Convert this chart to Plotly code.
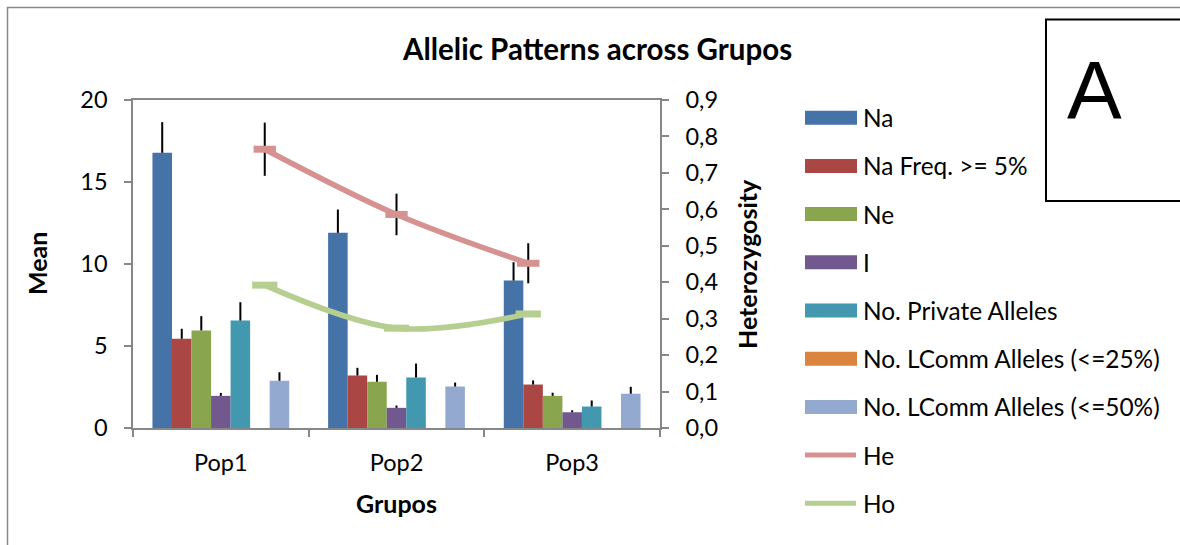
import plotly.graph_objects as go

# ---------------- data ----------------
groups = ["Pop1", "Pop2", "Pop3"]
bar_names = ["Na", "Na Freq. >= 5%", "Ne", "I", "No. Private Alleles",
             "No. LComm Alleles (<=25%)", "No. LComm Alleles (<=50%)"]
na = [16.78, 11.90, 8.99]
na_se = [1.87, 1.42, 1.12]
na5 = [5.44, 3.20, 2.65]
na5_se = [0.61, 0.47, 0.25]
ne = [5.95, 2.82, 1.96]
ne_se = [0.87, 0.42, 0.19]
i_vals = [1.96, 1.23, 0.96]
i_se = [0.18, 0.14, 0.12]
priv = [6.55, 3.08, 1.31]
priv_se = [1.12, 0.85, 0.37]
lc25 = [0.0, 0.0, 0.0]
lc25_se = [0.0, 0.0, 0.0]
lc50 = [2.88, 2.53, 2.09]
lc50_se = [0.52, 0.24, 0.42]
line_names = ["He", "Ho"]
he = [0.765, 0.586, 0.452]
he_se = [0.073, 0.057, 0.055]
ho = [0.392, 0.274, 0.313]

bar_values = [na, na5, ne, i_vals, priv, lc25, lc50]
bar_errors = [na_se, na5_se, ne_se, i_se, priv_se, lc25_se, lc50_se]
bar_colors = ["#4572A7", "#AA4643", "#89A54E", "#71588F", "#4198AF", "#DB843D", "#93A9CF"]
line_colors = ["rgb(214,146,145)", "rgb(183,206,145)"]

FONT = "Lato"
AXIS_GRAY = "#878787"
TICK_SIZE = 23.5
LEG_SIZE = 24.4
AXT_SIZE = 25

# plot-area geometry in pixels (layout only)
W, H = 1180, 545
L, R, T, B = 133, 660, 100, 428


def xp(px):
    return (px - L) / (R - L)


def yp(py):
    return (B - py) / (B - T)


fig = go.Figure()

for name, vals, errs, col in zip(bar_names, bar_values, bar_errors, bar_colors):
    fig.add_trace(go.Bar(
        x=groups, y=vals, name=name, marker=dict(color=col, line=dict(width=0)),
        error_y=dict(type="data", symmetric=False, array=errs,
                     arrayminus=[0] * len(errs), color="black",
                     thickness=2, width=0),
        showlegend=False,
    ))

fig.add_trace(go.Scatter(
    x=groups, y=he, name="He", xaxis="x2", yaxis="y2", mode="lines+markers",
    line=dict(color=line_colors[0], width=5.5, shape="spline", smoothing=1.0),
    marker=dict(symbol="line-ew", size=16, line=dict(color=line_colors[0], width=7)),
    error_y=dict(type="data", array=he_se, color="black", thickness=2, width=0),
    showlegend=False,
))
fig.add_trace(go.Scatter(
    x=groups, y=ho, name="Ho", xaxis="x2", yaxis="y2", mode="lines+markers",
    line=dict(color=line_colors[1], width=5.5, shape="spline", smoothing=1.0),
    marker=dict(symbol="line-ew", size=18, line=dict(color=line_colors[1], width=7)),
    showlegend=False,
))

shapes = []
annotations = []

# outer chart border (cropped by the canvas)
shapes.append(dict(type="rect", xref="paper", yref="paper",
                   x0=xp(7.5), x1=xp(1200), y0=yp(570), y1=yp(7.5),
                   line=dict(color=AXIS_GRAY, width=1.5), layer="below"))
# "A" panel box
shapes.append(dict(type="rect", xref="paper", yref="paper",
                   x0=xp(1046), x1=xp(1200), y0=yp(201), y1=yp(19.5),
                   line=dict(color="black", width=2)))
annotations.append(dict(text="A", xref="paper", yref="paper", x=xp(1094), y=yp(90),
                        xanchor="center", yanchor="middle", showarrow=False,
                        font=dict(family="Liberation Sans", size=82, color="black")))

# title and axis titles
annotations.append(dict(text="<b>Allelic Patterns across Grupos</b>", xref="paper", yref="paper",
                        x=xp(597), y=yp(48), xanchor="center", yanchor="middle",
                        showarrow=False, font=dict(family=FONT, size=29.5, color="black")))
annotations.append(dict(text="<b>Mean</b>", xref="paper", yref="paper", x=xp(37), y=yp(264),
                        xanchor="center", yanchor="middle", textangle=-90, showarrow=False,
                        font=dict(family=FONT, size=AXT_SIZE, color="black")))
annotations.append(dict(text="<b>Heterozygosity</b>", xref="paper", yref="paper", x=xp(747), y=yp(264),
                        xanchor="center", yanchor="middle", textangle=-90, showarrow=False,
                        font=dict(family=FONT, size=AXT_SIZE, color="black")))
annotations.append(dict(text="<b>Grupos</b>", xref="paper", yref="paper", x=xp(396), y=yp(503),
                        xanchor="center", yanchor="middle", showarrow=False,
                        font=dict(family=FONT, size=AXT_SIZE, color="black")))

# legend (drawn manually to match the wide swatches)
legend_names = bar_names + line_names
legend_colors = bar_colors + line_colors
row0, step = 117.7, 48.2
for k, (nm, col) in enumerate(zip(legend_names, legend_colors)):
    cy = row0 + k * step
    if k < len(bar_names):
        shapes.append(dict(type="rect", xref="paper", yref="paper",
                           x0=xp(805), x1=xp(857), y0=yp(cy + 7), y1=yp(cy - 7),
                           fillcolor=col, line=dict(width=0)))
    else:
        shapes.append(dict(type="line", xref="paper", yref="paper",
                           x0=xp(805), x1=xp(856), y0=yp(cy), y1=yp(cy),
                           line=dict(color=col, width=5)))
    annotations.append(dict(text=nm, xref="paper", yref="paper", x=xp(861), y=yp(cy),
                            xanchor="left", yanchor="middle", showarrow=False,
                            font=dict(family=FONT, size=LEG_SIZE, color="black")))

fig.update_layout(
    width=W, height=H,
    margin=dict(l=L, r=W - R, t=T, b=H - B, pad=0),
    paper_bgcolor="white", plot_bgcolor="white",
    separators=",.",
    barmode="group", bargap=0.2214, bargroupgap=0,
    font=dict(family=FONT, size=TICK_SIZE, color="black"),
    showlegend=False,
    shapes=shapes, annotations=annotations,
    xaxis=dict(type="category", range=[-0.5, 2.5], showline=True, mirror=True,
               linecolor=AXIS_GRAY, linewidth=1.5, showgrid=False,
               ticks="outside", tickson="boundaries", ticklen=7, tickcolor=AXIS_GRAY,
               tickwidth=1.5, ticklabelstandoff=13, tickfont=dict(family=FONT, size=TICK_SIZE)),
    yaxis=dict(range=[0, 20], dtick=5, tick0=0, showline=True, linecolor=AXIS_GRAY,
               linewidth=1.5, showgrid=False, zeroline=False, ticks="outside",
               ticklen=7, tickcolor=AXIS_GRAY, tickwidth=1.5, ticklabelstandoff=12,
               tickfont=dict(family=FONT, size=TICK_SIZE)),
    xaxis2=dict(type="category", overlaying="x", anchor="y2", range=[-1, 3],
                showline=False, showgrid=False, ticks="", showticklabels=False,
                zeroline=False),
    yaxis2=dict(range=[0, 0.9], dtick=0.1, tick0=0, tickformat=".1f", overlaying="y",
                side="right", anchor="x", showline=True, linecolor=AXIS_GRAY,
                linewidth=1.5, showgrid=False, zeroline=False, ticks="outside",
                ticklen=7, tickcolor=AXIS_GRAY, tickwidth=1.5, ticklabelstandoff=12,
                tickfont=dict(family=FONT, size=TICK_SIZE)),
)

fig.write_html("out.html", config={"displayModeBar": False},
               post_script="document.body.style.margin='0px';")
